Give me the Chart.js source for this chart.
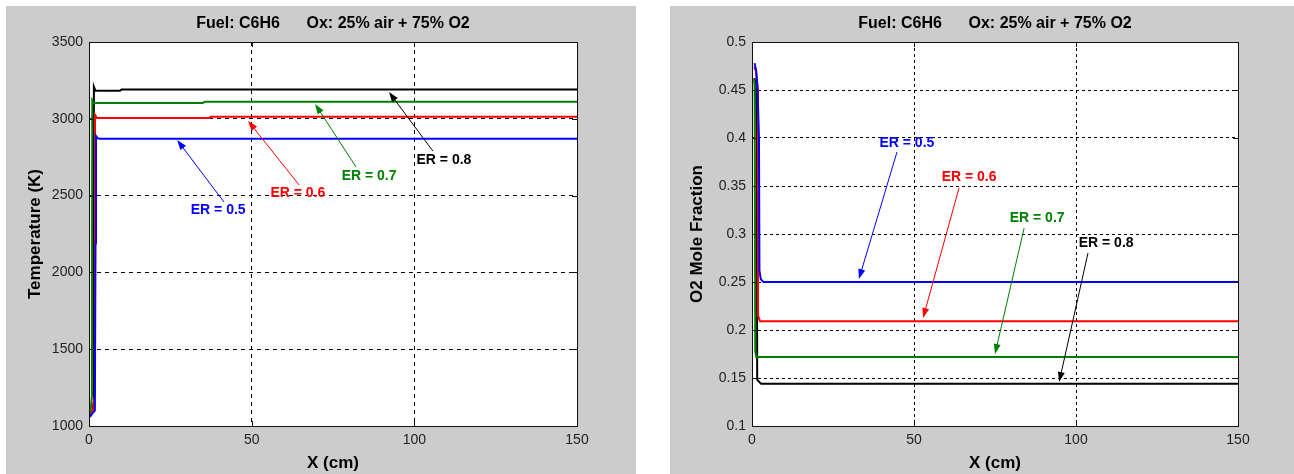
<!DOCTYPE html>
<html>
<head>
<meta charset="utf-8">
<script src="https://cdn.jsdelivr.net/npm/chart.js@4.4.1/dist/chart.umd.min.js"></script>
<style>
body { margin: 0; background: #fff; width: 1294px; height: 474px; overflow: hidden; position: relative; }
#tempChart { position: absolute; left: 6px; top: 6px; }
#o2Chart { position: absolute; left: 670px; top: 6px; }
</style>
</head>
<body>
<canvas id="tempChart" width="630" height="468"></canvas>
<canvas id="o2Chart" width="624" height="468"></canvas>
<script>
// titulo comum
const titleText = 'Fuel: C6H6      Ox: 25% air + 75% O2';
const erLabels = ['ER = 0.5', 'ER = 0.6', 'ER = 0.7', 'ER = 0.8'];
const erColors = ['#0000ff', '#ff0000', '#008000', '#000000'];

const xTicks = [0, 50, 100, 150];
const tempTicks = [1000, 1500, 2000, 2500, 3000, 3500];
const o2Ticks = [0.1, 0.15, 0.2, 0.25, 0.3, 0.35, 0.4, 0.45, 0.5];
const o2TickLabels = ['0.1', '0.15', '0.2', '0.25', '0.3', '0.35', '0.4', '0.45', '0.5'];

// temperatura (K) vs X (cm)
const tempX05 = [0.3, 1.0, 1.8, 2.0, 2.15, 2.6, 3.2, 150];
const tempY05 = [1060, 1080, 1100, 2190, 2888, 2874, 2870, 2870];
const tempX06 = [0.5, 1.2, 1.7, 1.8, 1.85, 2.4, 37, 37.5, 150];
const tempY06 = [1080, 1100, 1190, 1360, 3025, 3006, 3006, 3013, 3013];
const tempX07 = [0.3, 0.6, 0.9, 1.0, 1.4, 35, 35.5, 150];
const tempY07 = [1080, 1120, 1200, 3120, 3103, 3103, 3111, 3111];
const tempX08 = [0.3, 1.0, 1.4, 1.5, 2.0, 9.5, 10, 150];
const tempY08 = [1075, 1090, 1150, 3209, 3182, 3182, 3190, 3190];

// fracao molar de O2 vs X (cm)
const o2X05 = [0.8, 1.3, 1.7, 2.15, 2.3, 2.7, 3.5, 150];
const o2Y05 = [0.478, 0.47, 0.452, 0.40, 0.262, 0.253, 0.25, 0.25];
const o2X06 = [0.7, 1.2, 1.8, 1.85, 2.5, 150];
const o2Y06 = [0.474, 0.47, 0.45, 0.215, 0.209, 0.209];
const o2X07 = [0.6, 0.8, 0.85, 1.0, 1.3, 150];
const o2Y07 = [0.462, 0.455, 0.44, 0.178, 0.172, 0.172];
const o2X08 = [0.8, 1.2, 1.5, 1.6, 2.8, 150];
const o2Y08 = [0.4625, 0.452, 0.40, 0.148, 0.144, 0.144];

// anotacoes: texto, inicio e ponta da seta (coordenadas de dados)
const tempLabelPos = [[39.7, 2406], [64.2, 2517], [86.1, 2628], [109.1, 2732]];
const tempArrowTail = [[41.5, 2458], [64.6, 2569], [82.1, 2686], [105.7, 2790]];
const tempArrowTip = [[27.1, 2862], [48.9, 2986], [69.5, 3096], [92.2, 3174]];

const o2LabelPos = [[47.8, 0.3948], [67.0, 0.3594], [88.0, 0.3167], [109.3, 0.2906]];
const o2ArrowTail = [[44.75, 0.3854], [63.9, 0.348], [84.0, 0.3063], [103.7, 0.2802]];
const o2ArrowTip = [[33.0, 0.2531], [52.8, 0.2125], [75.0, 0.175], [94.8, 0.1458]];

const FONT = 'Liberation Sans, Arial, sans-serif';

function pares(xs, ys) {
    return xs.map((x, i) => ({ x: x, y: ys[i] }));
}

function montarDatasets(series) {
    return series.map((s, i) => ({
        label: erLabels[i],
        data: pares(s[0], s[1]),
        borderColor: erColors[i],
        borderWidth: 2,
        pointRadius: 0,
        showLine: true,
        fill: false,
        tension: 0
    }));
}

const painelPlugin = {
    id: 'painel',
    beforeDraw(chart) {
        const { ctx, chartArea: a } = chart;
        ctx.save();
        ctx.fillStyle = '#cccccc';
        ctx.fillRect(0, 0, chart.width, chart.height);
        ctx.fillStyle = '#ffffff';
        ctx.fillRect(a.left, a.top, a.right - a.left, a.bottom - a.top);
        ctx.restore();
    },
    afterDraw(chart) {
        const { ctx, chartArea: a, scales } = chart;
        const cfg = chart.options.plugins.painel;
        ctx.save();

        // caixa e marcas internas
        ctx.strokeStyle = '#111';
        ctx.lineWidth = 1;
        ctx.setLineDash([]);
        ctx.strokeRect(Math.round(a.left) + 0.5, Math.round(a.top) + 0.5,
            Math.round(a.right - a.left), Math.round(a.bottom - a.top));
        ctx.beginPath();
        scales.x.ticks.forEach(t => {
            const px = Math.round(scales.x.getPixelForValue(t.value)) + 0.5;
            ctx.moveTo(px, a.bottom); ctx.lineTo(px, a.bottom - 5);
            ctx.moveTo(px, a.top); ctx.lineTo(px, a.top + 5);
        });
        scales.y.ticks.forEach(t => {
            const py = Math.round(scales.y.getPixelForValue(t.value)) + 0.5;
            ctx.moveTo(a.left, py); ctx.lineTo(a.left + 5, py);
            ctx.moveTo(a.right, py); ctx.lineTo(a.right - 5, py);
        });
        ctx.stroke();

        // titulo
        ctx.fillStyle = '#000';
        ctx.font = 'bold 16px ' + FONT;
        ctx.textAlign = 'center';
        ctx.textBaseline = 'middle';
        ctx.fillText(titleText, (a.left + a.right) / 2, 18);

        // setas e textos
        ctx.font = 'bold 14px ' + FONT;
        cfg.labels.forEach((p, i) => {
            const tx = scales.x.getPixelForValue(cfg.tails[i][0]);
            const ty = scales.y.getPixelForValue(cfg.tails[i][1]);
            const hx = scales.x.getPixelForValue(cfg.tips[i][0]);
            const hy = scales.y.getPixelForValue(cfg.tips[i][1]);
            const ang = Math.atan2(hy - ty, hx - tx);
            ctx.strokeStyle = erColors[i];
            ctx.fillStyle = erColors[i];
            ctx.lineWidth = 1;
            ctx.beginPath();
            ctx.moveTo(tx, ty);
            ctx.lineTo(hx - 6 * Math.cos(ang), hy - 6 * Math.sin(ang));
            ctx.stroke();
            ctx.beginPath();
            ctx.moveTo(hx, hy);
            ctx.lineTo(hx - 10 * Math.cos(ang) + 3.5 * Math.sin(ang), hy - 10 * Math.sin(ang) - 3.5 * Math.cos(ang));
            ctx.lineTo(hx - 10 * Math.cos(ang) - 3.5 * Math.sin(ang), hy - 10 * Math.sin(ang) + 3.5 * Math.cos(ang));
            ctx.closePath();
            ctx.fill();
            ctx.fillText(erLabels[i], scales.x.getPixelForValue(p[0]), scales.y.getPixelForValue(p[1]));
        });
        ctx.restore();
    }
};

function criarGrafico(id, series, yTicks, yLabel, yFmt, opts) {
    const ctx = document.getElementById(id).getContext('2d');
    return new Chart(ctx, {
        type: 'scatter',
        data: { datasets: montarDatasets(series) },
        plugins: [painelPlugin],
        options: {
            responsive: false,
            animation: false,
            devicePixelRatio: 1,
            layout: { padding: { top: 36, right: opts.right, left: 0, bottom: 0 } },
            plugins: {
                legend: { display: false },
                tooltip: { enabled: false },
                painel: { labels: opts.labels, tails: opts.tails, tips: opts.tips }
            },
            scales: {
                x: {
                    type: 'linear',
                    min: 0,
                    max: 150,
                    afterBuildTicks: s => { s.ticks = xTicks.map(v => ({ value: v })); },
                    afterFit: s => { s.height = 48; },
                    grid: { color: '#000', lineWidth: 1, drawTicks: false },
                    border: { display: false, dash: opts.dash },
                    ticks: {
                        padding: 6,
                        color: '#222',
                        font: { family: FONT, size: 14 },
                        maxRotation: 0,
                        callback: v => String(v)
                    },
                    title: {
                        display: true,
                        text: 'X (cm)',
                        color: '#000',
                        font: { family: FONT, size: 17, weight: 'bold' },
                        padding: { top: 6, bottom: 0 }
                    }
                },
                y: {
                    type: 'linear',
                    min: yTicks[0],
                    max: yTicks[yTicks.length - 1],
                    afterBuildTicks: s => { s.ticks = yTicks.map(v => ({ value: v })); },
                    afterFit: s => { s.width = opts.left; },
                    grid: { color: '#000', lineWidth: 1, drawTicks: false },
                    border: { display: false, dash: opts.dash },
                    ticks: {
                        padding: 6,
                        color: '#222',
                        font: { family: FONT, size: 14 },
                        callback: yFmt
                    },
                    title: {
                        display: true,
                        text: yLabel,
                        color: '#000',
                        font: { family: FONT, size: 17, weight: 'bold' },
                        padding: { top: opts.yTitlePad, bottom: 0 }
                    }
                }
            }
        }
    });
}

window.onload = () => {
    criarGrafico('tempChart',
        [[tempX05, tempY05], [tempX06, tempY06], [tempX07, tempY07], [tempX08, tempY08]],
        tempTicks, 'Temperature (K)', v => String(v),
        { left: 83, right: 59, dash: [4, 4], yTitlePad: 19,
          labels: tempLabelPos, tails: tempArrowTail, tips: tempArrowTip });

    criarGrafico('o2Chart',
        [[o2X05, o2Y05], [o2X06, o2Y06], [o2X07, o2Y07], [o2X08, o2Y08]],
        o2Ticks, 'O2 Mole Fraction', (v, i) => o2TickLabels[i],
        { left: 82, right: 56, dash: [3, 3], yTitlePad: 17,
          labels: o2LabelPos, tails: o2ArrowTail, tips: o2ArrowTip });
};
</script>
</body>
</html>
